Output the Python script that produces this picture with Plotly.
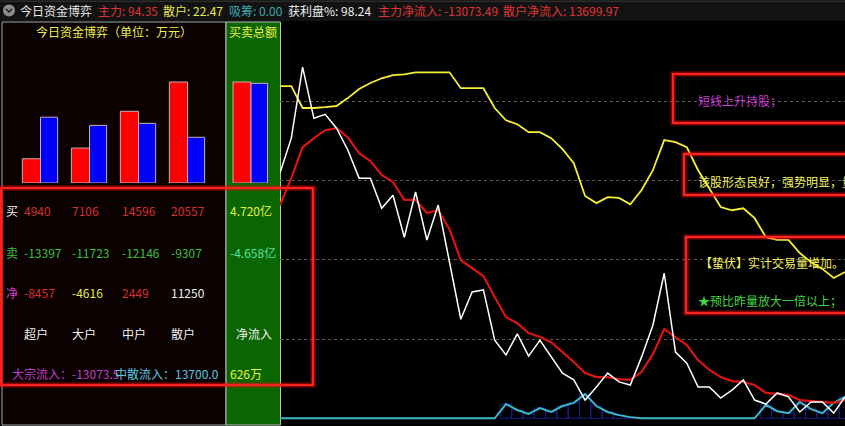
import plotly.graph_objects as go

W, H = 845, 426
FONT = "Noto Sans CJK SC"

# ---------------- data ----------------
tiers = ["超户", "大户", "中户", "散户"]
buy_wan = [4940, 7106, 14596, 20557]
sell_wan = [-13397, -11723, -12146, -9307]
net_wan = [-8457, -4616, 2449, 11250]
total_buy_yi = 4.720
total_sell_yi = -4.658
total_net_wan = 626
block_flow = -13073.5
retail_flow = 13700.0

head_labels = ["主力", "散户", "吸筹", "获利盘%", "主力净流入", "散户净流入"]
head_values = ["94.35", "22.47", "0.00", "98.24", "-13073.49", "13699.97"]

white_line = [61.9, 70.7, 88.6, 75.7, 76.7, 73.2, 67.7, 60.6, 60.6, 53.0,
              56.3, 45.7, 57.1, 45.0, 53.8, 39.4, 25.0, 31.9, 32.4, 19.7,
              16.0, 21.3, 15.7, 19.7, 15.5, 11.4, 9.7, 4.6, 7.9, 11.4,
              9.2, 8.4, 15.5, 23.5, 36.6, 16.7, 13.9, 7.9, 7.9, 5.1,
              7.1, 9.7, 4.6, 3.6, 6.4, 5.4, 1.6, 4.1, 4.1, 1.3, 5.4]
red_line = [53.8, 60.6, 68.4, 70.7, 72.7, 73.2, 70.9, 66.9, 64.9, 61.4,
            59.6, 55.1, 55.1, 51.8, 52.5, 47.7, 39.9, 37.9, 35.9, 30.6,
            25.5, 24.0, 21.5, 20.5, 19.2, 16.7, 14.2, 11.4, 10.4, 10.4,
            9.9, 9.7, 11.7, 16.2, 22.5, 20.5, 18.5, 14.7, 12.2, 10.4,
            9.4, 9.2, 8.4, 6.4, 6.1, 5.9, 4.6, 4.4, 4.1, 3.9, 4.6]
yellow_line = [83.8, 83.8, 78.3, 78.3, 78.5, 78.8, 80.8, 83.1, 84.6, 85.8,
               86.6, 86.8, 87.3, 87.3, 87.3, 87.3, 83.3, 83.3, 83.3, 78.3,
               75.2, 74.2, 72.2, 72.2, 70.7, 67.9, 64.4, 56.1, 54.3, 55.8,
               55.6, 54.0, 57.6, 62.6, 70.2, 69.7, 68.4, 62.6, 57.8, 53.3,
               52.5, 53.0, 50.5, 45.7, 45.0, 45.0, 41.7, 39.4, 37.7, 35.4, 36.9]
cyan_line = [0, 0, 0, 0, 0, 0, 0, 0, 0, 0,
             0, 0, 0, 0, 0, 0, 0, 0, 0, 0,
             3.6, 2.1, 1.1, 2.6, 1.6, 3.1, 3.9, 6.1, 3.1, 1.6,
             0.8, 0.3, 0, 0, 0, 0, 0, 0, 0, 0,
             0, 0, 0, 3.4, 1.8, 1.3, 4.1, 2.3, 1.3, 3.9, 5.4]
vol_bars = [None, None, None, None, None, None, None, None, None, None,
            None, None, None, None, None, None, None, None, None, None,
            3.6, 2.1, 1.1, 2.6, 1.6, 3.1, 3.9, 6.1, 3.1, 1.6,
            0.8, 0.3, None, None, None, None, None, None, None, None,
            None, None, None, 3.4, 1.8, 1.3, 4.1, 2.3, 1.3, 3.9, 5.4]
idx = list(range(len(white_line)))


def px(x):
    return x / W


def py(y):
    return 1 - y / H


fig = go.Figure()

# volume sticks and lines on the main chart
fig.add_trace(go.Bar(x=idx, y=vol_bars, width=1.0, xaxis="x", yaxis="y",
                     marker=dict(color="rgba(0,0,0,0)", line=dict(color="#1c1c8c", width=1))))
fig.add_trace(go.Scatter(x=idx, y=cyan_line, mode="lines", line=dict(color="#3cb8c8", width=2)))
fig.add_trace(go.Scatter(x=idx, y=red_line, mode="lines", line=dict(color="#dc1414", width=2.2)))
fig.add_trace(go.Scatter(x=idx, y=yellow_line, mode="lines", line=dict(color="#f5f032", width=1.8)))
fig.add_trace(go.Scatter(x=idx, y=white_line, mode="lines", line=dict(color="#ffffff", width=1.5)))

# left panel bars
bar_line = dict(color="#c8b0b0", width=1)
fig.add_trace(go.Bar(x=[0, 1, 2, 3], y=buy_wan, width=0.37, offset=-0.37, xaxis="x2", yaxis="y2",
                     marker=dict(color="#ff0000", line=bar_line)))
fig.add_trace(go.Bar(x=[0, 1, 2, 3], y=[abs(v) for v in sell_wan], width=0.35, offset=0.0,
                     xaxis="x2", yaxis="y2", marker=dict(color="#0000ff", line=bar_line)))
fig.add_trace(go.Bar(x=[0], y=[total_buy_yi], width=0.36, offset=-0.36, xaxis="x3", yaxis="y3",
                     marker=dict(color="#ff0000", line=bar_line)))
fig.add_trace(go.Bar(x=[0], y=[abs(total_sell_yi)], width=0.33, offset=0.0, xaxis="x3", yaxis="y3",
                     marker=dict(color="#0000ff", line=bar_line)))

shapes = []


def rect(x0, y0, x1, y1, fill=None, line_color=None, lw=0, layer="below"):
    d = dict(type="rect", xref="paper", yref="paper", x0=px(x0), x1=px(x1), y0=py(y1), y1=py(y0),
             layer=layer, line=dict(width=lw, color=line_color or "rgba(0,0,0,0)"))
    if fill:
        d["fillcolor"] = fill
    return d


shapes.append(rect(0, 0, 845, 21, fill="#121212"))
shapes.append(dict(type="line", xref="paper", yref="paper", x0=0, x1=1, y0=py(1.2), y1=py(1.2),
                   line=dict(color="#3a3a3a", width=1), layer="below"))
shapes.append(rect(2, 22, 226, 425, fill="#0b0101", line_color="#a8a8a8", lw=1))
shapes.append(rect(226, 22, 280.5, 425, fill="#0a6600", line_color="#b8c4b8", lw=1))
# icon
shapes.append(dict(type="circle", xref="paper", yref="paper", x0=px(3), x1=px(15), y0=py(16.5), y1=py(4.5),
                   fillcolor="#8c8c8c", line=dict(width=0), layer="above"))
shapes.append(dict(type="path", xref="paper", yref="paper",
                   path=f"M {px(6)},{py(9)} L {px(9)},{py(12)} L {px(12)},{py(9)}",
                   line=dict(color="#1a1a1a", width=1.5), layer="above"))

# red highlight boxes
for (x0, y0, x1, y1) in [(1, 188, 313, 385), (673, 74, 870, 123), (684, 154, 870, 195), (686, 237, 870, 313)]:
    shapes.append(rect(x0, y0, x1, y1, line_color="rgba(255,0,0,0.28)", lw=6, layer="above"))
    shapes.append(rect(x0, y0, x1, y1, line_color="#ff2020", lw=2.5, layer="above"))

ann = []


def T(x, y, s, color, xanchor="left", size=12):
    ann.append(dict(x=px(x), y=py(y), xref="paper", yref="paper", text=s, showarrow=False,
                    xanchor=xanchor, yanchor="middle", font=dict(color=color, size=size, family=FONT)))


# header bar
T(18, 10.5, "今日资金博弈", "#e8e8e8")
head_x = [96, 161, 227, 286, 376, 501]
head_colors = ["#e03434", "#ece850", "#3ca8b4", "#f0f0f0", "#e03434", "#e03434"]
for lab, val, hx, hc in zip(head_labels, head_values, head_x, head_colors):
    T(hx, 10.5, f"{lab}: {val}", hc)

# left panel titles
T(114, 32, "今日资金博弈（单位：万元）", "#f0f050", "center")
T(253, 32, "买卖总额", "#f0f050", "center")

col_x = [22, 70, 120, 169]
row_y = [211, 252, 292, 333, 373]
T(4, row_y[0], "买", "#f0f0f0")
T(4, row_y[1], "卖", "#3cc03c")
T(4, row_y[2], "净", "#d040d0")
net_colors = ["#d83030", "#ece850", "#d83030", "#f0f0f0"]
for i in range(4):
    T(col_x[i], row_y[0], str(buy_wan[i]), "#d83030")
    T(col_x[i], row_y[1], str(sell_wan[i]), "#3cc03c")
    T(col_x[i], row_y[2], str(net_wan[i]), net_colors[i])
    T(col_x[i], row_y[3], tiers[i], "#f0f0f0")
T(228, row_y[0], f"{total_buy_yi:.3f}亿", "#e8f040")
T(228, row_y[1], f"{total_sell_yi:.3f}亿", "#50e0a8")
T(234, row_y[3], "净流入", "#f0f0f0")
T(228, row_y[4], f"{total_net_wan}万", "#e8f040")
T(10, row_y[4], f"大宗流入：{block_flow:.1f}", "#c040c8")
T(113, row_y[4], f"中散流入：{retail_flow:.1f}", "#58c8e0")

# right hint boxes (text runs past the right edge, as in the original)
T(696, 101, "短线上升持股；", "#c83cd0")
T(696, 181, "该股形态良好，强势明显，量", "#f5f060")
T(698, 262, "【蛰伏】实计交易量增加。N", "#f5f060")
T(696, 300, "★预比昨量放大一倍以上；", "#40d840")

fig.update_layout(
    width=W, height=H, margin=dict(l=0, r=0, t=0, b=0),
    paper_bgcolor="#000000", plot_bgcolor="rgba(0,0,0,0)",
    showlegend=False, barmode="overlay",
    shapes=shapes, annotations=ann,
    xaxis=dict(domain=[px(280), 1], range=[0, 50], visible=False),
    yaxis=dict(domain=[0, py(22)], range=[-1.94, 100], tickvals=[20, 40, 60, 80],
               showticklabels=False, ticks="", showline=False, zeroline=False,
               showgrid=True, gridcolor="#5c5c5c", griddash="dot", gridwidth=1),
    xaxis2=dict(domain=[px(16), px(212)], range=[-0.5, 3.5], anchor="y2", visible=False),
    yaxis2=dict(domain=[py(183), py(40)], range=[0, 29105], anchor="x2", visible=False),
    xaxis3=dict(domain=[px(226), px(276)], range=[-0.5, 0.5], anchor="y3", visible=False),
    yaxis3=dict(domain=[py(183), py(40)], range=[0, 6.683], anchor="x3", visible=False),
)

fig.write_html("out.html", config={"displayModeBar": False},
               post_script="document.body.style.margin='0';document.body.style.overflow='hidden';")
